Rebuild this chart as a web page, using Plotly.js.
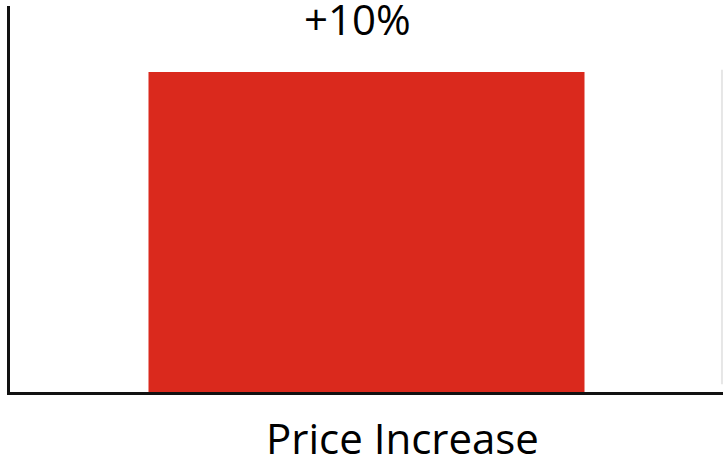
<!DOCTYPE html>
<html>
<head>
<meta charset="utf-8">
<script src="https://cdn.plot.ly/plotly-3.0.1.min.js"></script>
<style>html,body{margin:0;padding:0;background:#fff;}#chart{width:723px;height:458px;}</style>
</head>
<body>
<div id="chart"></div>
<script>
const categories = ['Price Increase'];
const values = [10];
const valueLabels = ['+10%'];

const FONT = 'Open Sans, Noto Sans, sans-serif';

const trace = {
  type: 'bar',
  x: categories,
  y: values,
  marker: {color: '#DA291D', line: {width: 0}},
  width: 0.6115,
  hoverinfo: 'none'
};

const annotations = [
  {
    x: categories[0], y: values[0], xref: 'x', yref: 'y',
    text: valueLabels[0], showarrow: false,
    xanchor: 'center', yanchor: 'bottom', yshift: 23, xshift: -9,
    font: {family: FONT, size: 42, color: '#000'}
  },
  {
    x: categories[0], y: 0, xref: 'x', yref: 'paper',
    text: categories[0], showarrow: false,
    xanchor: 'center', yanchor: 'top', yshift: -15, xshift: 36,
    font: {family: FONT, size: 42, color: '#000'}
  }
];

const layout = {
  width: 723, height: 458,
  margin: {l: 10, r: 0, t: 6, b: 66, pad: 0},
  paper_bgcolor: '#fff', plot_bgcolor: '#fff',
  showlegend: false,
  xaxis: {
    type: 'category', range: [-0.5, 0.5],
    showticklabels: false, ticks: '', showgrid: false, zeroline: false,
    showline: true, linecolor: '#111', linewidth: 3, fixedrange: true
  },
  yaxis: {
    range: [0, 12.06],
    showticklabels: false, ticks: '', showgrid: false, zeroline: false,
    showline: true, linecolor: '#111', linewidth: 3, fixedrange: true
  },
  annotations: annotations,
  shapes: [
    {type: 'line', xref: 'paper', yref: 'paper', x0: 0.9985, x1: 0.9985, y0: 0.02, y1: 0.835,
     line: {color: '#e6e6e6', width: 2}}
  ]
};

Plotly.newPlot('chart', [trace], layout, {displayModeBar: false, staticPlot: true});
</script>
</body>
</html>
